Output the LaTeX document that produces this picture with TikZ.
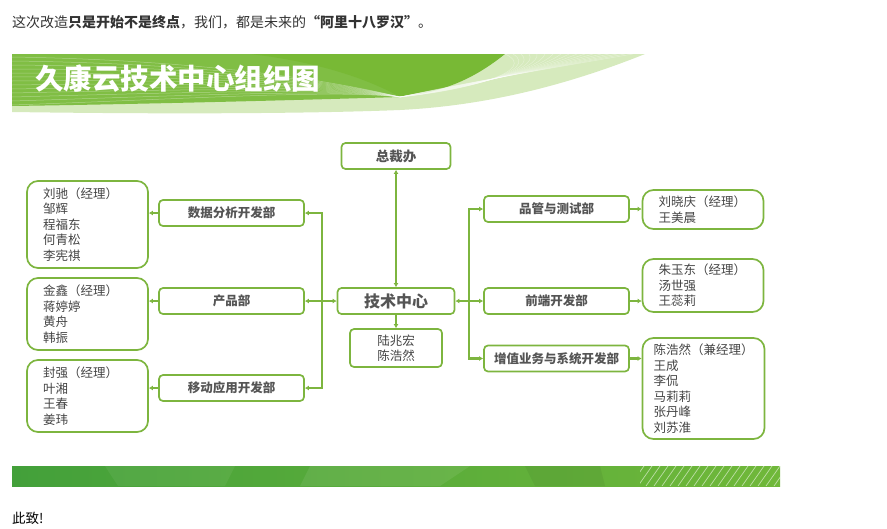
\documentclass[tikz,border=0pt]{standalone}
\usepackage{fontspec}
\setmainfont{Noto Sans CJK SC}
\usepackage{xcolor}
\usepackage{tikz}
\usetikzlibrary{shapes,arrows,arrows.meta,positioning,calc}

\definecolor{orggreen}{HTML}{7DB53F}
\definecolor{bannergreen}{HTML}{78B935}
\definecolor{bannermid}{HTML}{80BE44}
\definecolor{bannerlight}{HTML}{D6EABD}
\definecolor{bandleft}{HTML}{43A03A}
\definecolor{bandright}{HTML}{70B83A}
\definecolor{labelgray}{HTML}{555555}
\definecolor{namegray}{HTML}{444444}

\begin{document}
\begin{tikzpicture}[x=1pt, y=-1pt,
  dept/.style={rectangle, draw=orggreen, line width=1.7pt, rounded corners=4pt, minimum width=145pt, minimum height=26pt, font=\fontsize{12.5}{14}\selectfont\bfseries, text=labelgray},
  members/.style={rectangle, draw=orggreen, line width=1.7pt, rounded corners=11pt, align=left, inner xsep=16pt, text width=89pt, font=\fontsize{12.5}{15.5}\selectfont, text=namegray},
  arrow/.style={draw=orggreen, line width=2.2pt, -{Latex[length=4pt,width=5pt]}},
  twoway/.style={draw=orggreen, line width=2.2pt, {Latex[length=4pt,width=5pt]}-{Latex[length=4pt,width=5pt]}},
  stripe/.style={white, line width=0.5pt, opacity=0.35}
]
\useasboundingbox (0,0) rectangle (887,528);

% Intro line
\node[anchor=west, inner sep=0, font=\fontsize{14}{16}\selectfont, text=black!80] (intro) at (12,22) {这次改造\textbf{只是开始不是终点}，我们，都是未来的\textbf{“阿里十八罗汉”}。};

% Banner
\fill[bannerlight] (12,54) -- (645,54) .. controls (560,88) and (480,106) .. (400,110) .. controls (300,114) and (150,114) .. (12,112) -- cycle;
\fill[bannermid] (12,54) -- (340,54) .. controls (360,70) and (380,85) .. (400,97) .. controls (300,100) and (150,104) .. (12,106) -- cycle;
\fill[bannergreen] (250,54) -- (505,54) .. controls (475,78) and (445,92) .. (400,97) .. controls (370,80) and (320,62) .. (250,54) -- cycle;
\foreach \i in {0,...,12}
  \draw[stripe] (12,57+\i*4) .. controls (200,60+\i*3.2) and (330,80+\i*0.8) .. (400,97);
\foreach \i in {0,...,16}
  \draw[stripe] (400,97) .. controls (470,90-\i*0.5) and (540,70) .. (505+\i*8,54);
\node[anchor=west, inner sep=0, text=white, font=\fontsize{28.5}{30}\selectfont\bfseries] (title) at (35,79) {久康云技术中心组织图};

% Centre
\node[dept, minimum width=109pt, font=\fontsize{13.5}{15}\selectfont\bfseries] (zcb) at (396,156) {总裁办};
\node[dept, minimum width=117pt, font=\fontsize{16}{18}\selectfont\bfseries] (jszx) at (396,301) {技术中心};
\node[dept, minimum width=92pt, minimum height=38pt, align=center, font=\fontsize{12.5}{15.5}\selectfont, text=namegray] (zhuli) at (396,348) {陆兆宏\\陈浩然};

% Left departments
\node[dept] (sjfx) at (231.5,213) {数据分析开发部};
\node[dept] (cpb) at (231.5,301) {产品部};
\node[dept] (ydyy) at (231.5,388) {移动应用开发部};

% Left staff
\node[members, minimum height=87pt] (sjfx-m) at (87.5,224.5) {刘驰（经理）\\邹辉\\程福东\\何青松\\李宪祺};
\node[members, minimum height=72pt] (cpb-m) at (87.5,314) {金鑫（经理）\\蒋婷婷\\黄舟\\韩振};
\node[members, minimum height=72pt] (ydyy-m) at (87.5,396) {封强（经理）\\叶湘\\王春\\姜玮};

% Right departments
\node[dept] (pgcs) at (556.5,209) {品管与测试部};
\node[dept] (qdkf) at (556.5,301) {前端开发部};
\node[dept] (zzyw) at (556.5,358.5) {增值业务与系统开发部};

% Right staff
\node[members, minimum height=39pt] (pgcs-m) at (703,209.5) {刘晓庆（经理）\\王美晨};
\node[members, minimum height=53pt] (qdkf-m) at (703,285.5) {朱玉东（经理）\\汤世强\\王蕊莉};
\node[members, minimum height=101pt, inner xsep=11pt, text width=100pt] (zzyw-m) at (703.5,388.5) {陈浩然（兼经理）\\王成\\李侃\\马莉莉\\张丹峰\\刘苏淮};

% Connections
\draw[twoway] (zcb) -- (jszx);
\draw[arrow] (jszx) -- (zhuli);
\draw[twoway] (sjfx.east) -- ++(17,0) |- (ydyy.east);
\draw[twoway] (cpb.east) -- (jszx.west);
\draw[twoway] (pgcs.west) -- ++(-14,0) |- (zzyw.west);
\draw[twoway] (jszx.east) -- (qdkf.west);
\draw[arrow] (sjfx.west) -- (sjfx.west -| sjfx-m.east);
\draw[arrow] (cpb.west) -- (cpb.west -| cpb-m.east);
\draw[arrow] (ydyy.west) -- (ydyy.west -| ydyy-m.east);
\draw[arrow] (pgcs.east) -- (pgcs.east -| pgcs-m.west);
\draw[arrow] (qdkf.east) -- (qdkf.east -| qdkf-m.west);
\draw[arrow] (zzyw.east) -- (zzyw.east -| zzyw-m.west);

% Footer band
\shade[left color=bandleft, right color=bandright] (12,466) rectangle (780,486);
\fill[white, opacity=0.06] (105,466) -- (235,466) -- (225,486) -- (118,486) -- cycle;
\fill[white, opacity=0.08] (310,466) -- (470,466) -- (440,486) -- (300,486) -- cycle;
\fill[black, opacity=0.05] (525,466) -- (600,466) -- (605,486) -- (535,486) -- cycle;
\begin{scope}
  \clip (640,466) rectangle (780,486);
  \foreach \x in {630,638,...,790}
    \draw[white, opacity=0.55, line width=0.7pt] (\x,486) -- (\x+14,466);
\end{scope}

% Closing
\node[anchor=west, inner sep=0, font=\fontsize{13.5}{16}\selectfont] (closing) at (12,518) {此致!};
\end{tikzpicture}
\end{document}
